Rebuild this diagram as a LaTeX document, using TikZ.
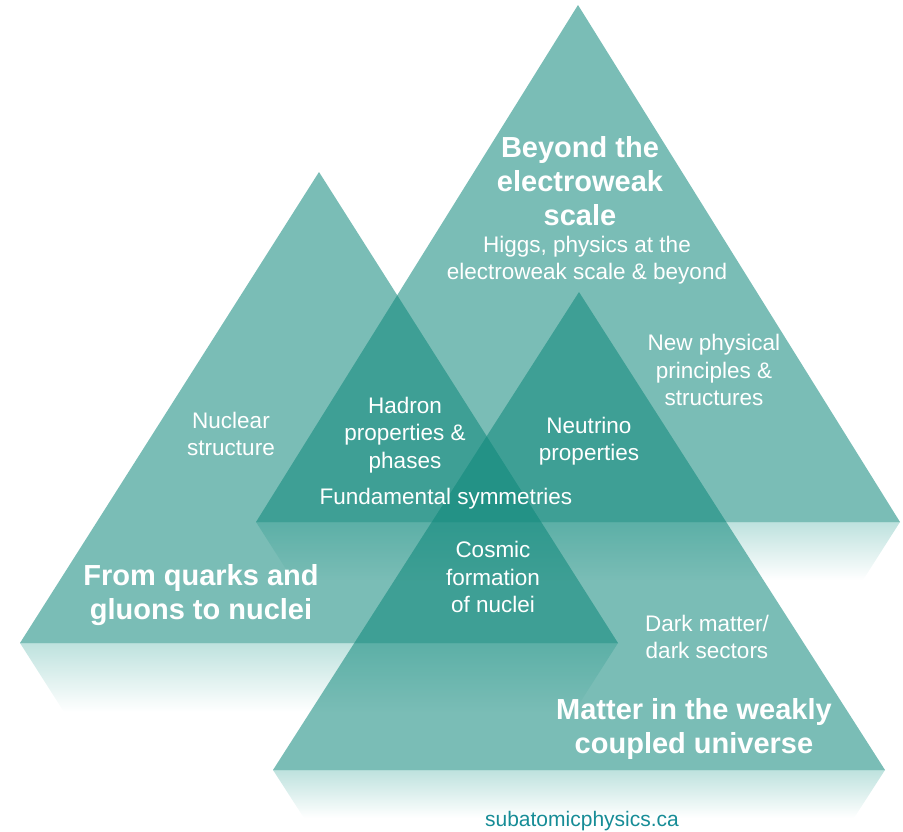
\documentclass[tikz,border=0pt]{standalone}
\usepackage{fontspec}
\setmainfont{Liberation Sans}
\definecolor{tealc}{RGB}{13,135,122}
\definecolor{refl}{RGB}{190,226,222}
\definecolor{linkc}{RGB}{22,140,150}
\tikzset{
  tri/.style={fill=tealc, fill opacity=0.55, draw=none},
  reflx/.style={top color=refl, bottom color=white, draw=none},
  big/.style={text=white, align=center, font=\fontsize{29}{34}\selectfont\bfseries, inner sep=0pt},
  small/.style={text=white, align=center, font=\fontsize{22.5}{27.5}\selectfont, inner sep=0pt},
}
\begin{document}
\begin{tikzpicture}[x=1pt,y=-1pt]
\useasboundingbox (0,0) rectangle (903,831);
% reflections
\shade[reflx] (256,522) -- (900,522) -- (863,580) -- (293,580) -- cycle;
\shade[reflx] (20,643) -- (618,643) -- (574,712) -- (64,712) -- cycle;
\shade[reflx] (273,770) -- (885,770) -- (854,818) -- (304,818) -- cycle;
% triangles
\coordinate (tA) at (578,5);
\coordinate (tL) at (256,522);
\coordinate (tR) at (900,522);
\coordinate (lA) at (319,172);
\coordinate (lL) at (20,643);
\coordinate (lR) at (618,643);
\coordinate (bA) at (579,292);
\coordinate (bL) at (273,770);
\coordinate (bR) at (885,770);
\fill[tri] (tA) -- (tR) -- (tL) -- cycle;
\fill[tri] (lA) -- (lR) -- (lL) -- cycle;
\fill[tri] (bA) -- (bR) -- (bL) -- cycle;
% texts
\node[big] (t1) at (580,181) {Beyond the\\electroweak\\scale};
\node[small] (t2) at (587,260) {Higgs, physics at the\\electroweak scale \& beyond};
\node[small] (t3) at (714,370) {New physical\\principles \&\\structures};
\node[small] (t4) at (231,434) {Nuclear\\structure};
\node[small] (t5) at (405,435) {Hadron\\properties \&\\phases};
\node[small] (t6) at (589,441) {Neutrino\\properties};
\node[small] (t7) at (446,499) {Fundamental symmetries};
\node[small] (t8) at (493,577) {Cosmic\\formation\\of nuclei};
\node[big] (t9) at (201,595) {From quarks and\\gluons to nuclei};
\node[small] (t10) at (707,637) {Dark matter/\\dark sectors};
\node[big] (t11) at (694,729) {Matter in the weakly\\coupled universe};
\node[text=linkc, font=\fontsize{21}{25}\selectfont, inner sep=0pt] (t12) at (582,821) {subatomicphysics.ca};
\end{tikzpicture}
\end{document}
